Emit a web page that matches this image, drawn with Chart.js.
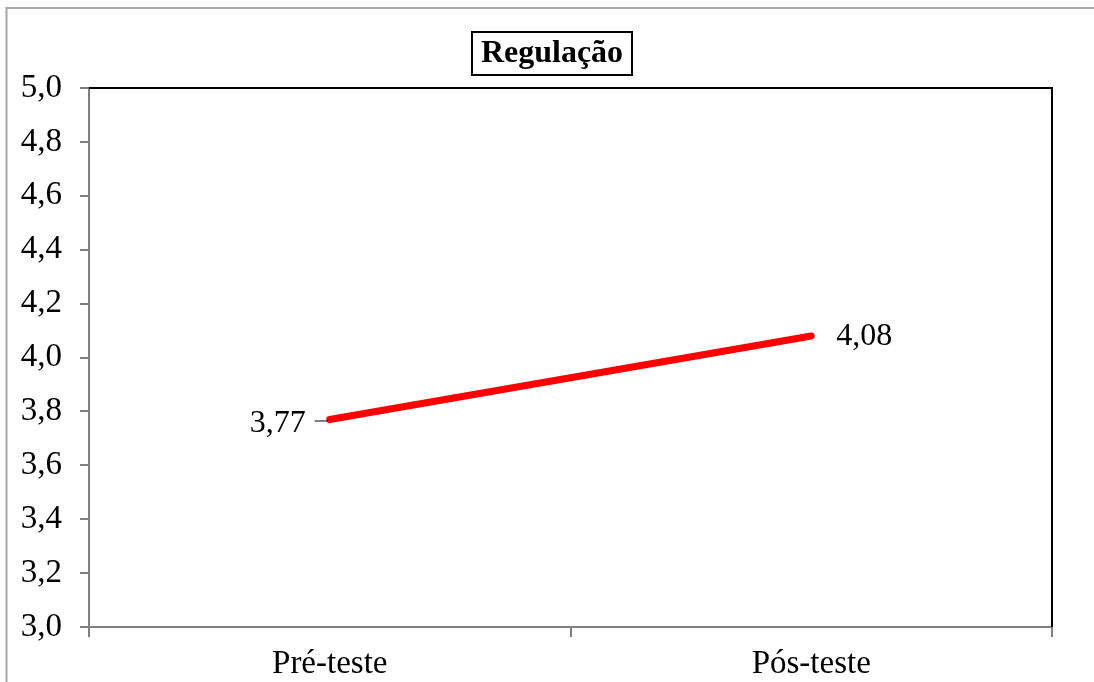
<!DOCTYPE html>
<html>
<head>
<meta charset="utf-8">
<script src="https://cdn.jsdelivr.net/npm/chart.js@4"></script>
<style>
  html, body { margin: 0; padding: 0; background: #fff; }
  #wrap { width: 1094px; height: 682px; }
</style>
</head>
<body>
<div id="wrap"><canvas id="chart" width="1094" height="682"></canvas></div>
<script>
// data
const categories = ['Pré-teste', 'Pós-teste'];
const regulacao = [3.77, 4.08];
const valueLabels = ['3,77', '4,08'];
const yMin = 3.0, yMax = 5.0, yStep = 0.2;

const serif = '"Liberation Serif", "Times New Roman", serif';

// frame, plot box, title and value labels
const decor = {
    id: 'decor',
    beforeDraw(chart) {
        const ctx = chart.ctx;
        ctx.save();
        ctx.strokeStyle = '#a6a6a6';
        ctx.lineWidth = 2;
        ctx.beginPath();
        ctx.moveTo(6.5, 700);
        ctx.lineTo(6.5, 8);
        ctx.lineTo(1094, 8);
        ctx.stroke();
        ctx.restore();
    },
    afterDraw(chart) {
        const ctx = chart.ctx;
        const a = chart.chartArea;
        ctx.save();
        // top and right edges of the plot box
        ctx.strokeStyle = '#000';
        ctx.lineWidth = 2;
        ctx.beginPath();
        ctx.moveTo(a.left, a.top);
        ctx.lineTo(a.right, a.top);
        ctx.lineTo(a.right, a.bottom);
        ctx.stroke();

        // title in a box
        ctx.font = 'bold 32px ' + serif;
        ctx.fillStyle = '#000';
        ctx.textAlign = 'center';
        ctx.textBaseline = 'middle';
        const tx = 552, ty = 54;
        ctx.fillText('Regulação', tx, ty);
        ctx.lineWidth = 2;
        ctx.strokeRect(472, 32, 160, 43);

        // value labels
        const meta = chart.getDatasetMeta(0);
        ctx.font = '32px ' + serif;
        ctx.textBaseline = 'middle';
        const p0 = meta.data[0], p1 = meta.data[1];
        ctx.textAlign = 'right';
        ctx.fillText(valueLabels[0], p0.x - 24, p0.y + 4);
        ctx.lineWidth = 1;
        ctx.beginPath();
        ctx.moveTo(p0.x - 15, p0.y + 1.5);
        ctx.lineTo(p0.x - 2, p0.y + 1.5);
        ctx.stroke();
        ctx.textAlign = 'left';
        ctx.fillText(valueLabels[1], p1.x + 25, p1.y + 1);
        ctx.restore();
    }
};

new Chart(document.getElementById('chart'), {
    type: 'line',
    data: {
        labels: categories,
        datasets: [{
            label: 'Regulação',
            data: regulacao,
            borderColor: '#ff0000',
            borderWidth: 7,
            borderCapStyle: 'round',
            pointRadius: 0,
            tension: 0
        }]
    },
    options: {
        responsive: false,
        animation: false,
        layout: { padding: { top: 88, right: 42, left: 0, bottom: 0 } },
        plugins: {
            legend: { display: false },
            tooltip: { enabled: false }
        },
        scales: {
            x: {
                offset: true,
                grid: {
                    offset: true,
                    drawOnChartArea: false,
                    tickLength: 10,
                    color: '#808080',
                    lineWidth: 2
                },
                border: { color: '#808080', width: 2 },
                ticks: {
                    color: '#000',
                    padding: 8,
                    font: { family: serif, size: 33 }
                },
                afterFit(scale) { scale.height = 55; }
            },
            y: {
                min: yMin,
                max: yMax,
                grid: {
                    drawOnChartArea: false,
                    tickLength: 9,
                    color: '#808080',
                    lineWidth: 2
                },
                border: { color: '#808080', width: 2 },
                ticks: {
                    stepSize: yStep,
                    color: '#000',
                    padding: 18,
                    font: { family: serif, size: 33 },
                    callback: v => v.toFixed(1).replace('.', ',')
                },
                afterFit(scale) { scale.width = 89; }
            }
        }
    },
    plugins: [decor]
});
</script>
</body>
</html>
